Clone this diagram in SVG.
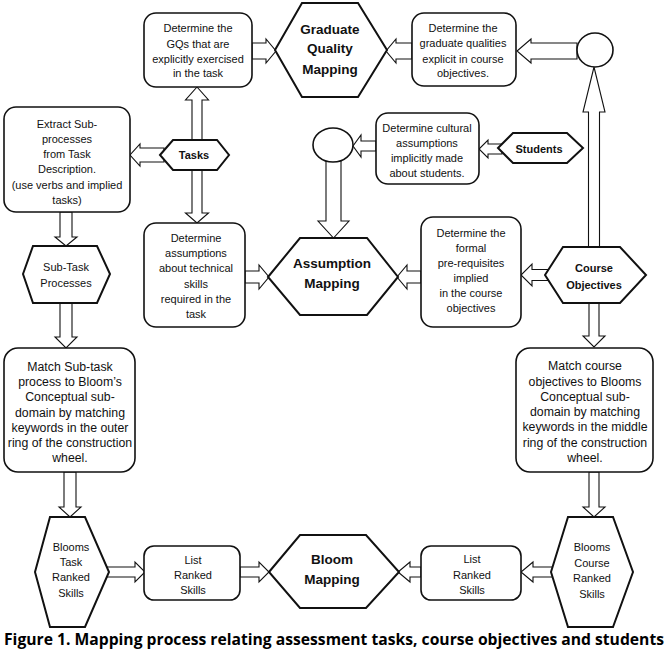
<svg xmlns="http://www.w3.org/2000/svg" width="669" height="653" viewBox="0 0 669 653">
<style>
.box{fill:#fff;stroke:#111;stroke-width:1.6}
.hex{fill:#fff;stroke:#111;stroke-width:2}
.arr{fill:#fff;stroke:#111;stroke-width:1.1;stroke-linejoin:miter}
text{font-family:"Liberation Sans",Arial,sans-serif;fill:#111;text-anchor:middle}
.t{font-size:11px}
.m{font-size:12.3px}
.b{font-size:13.5px;font-weight:bold}
.s{font-size:11px;font-weight:bold}
.cap{font-family:"Open Sans","Liberation Sans",sans-serif;font-size:15.5px;font-weight:bold;fill:#000}
</style>
<rect width="669" height="653" fill="#fff"/>
<g id="connectors">
<polygon class="arr" points="252,43 266,43 266,39 276,51 266,63 266,59 252,59"/>
<polygon class="arr" points="412,43 396,43 396,39 386,51 396,63 396,59 412,59"/>
<polygon class="arr" points="577,43 531,43 531,39 517,51 531,63 531,59 577,59"/>
<polygon class="arr" points="588.5,250 588.5,112 583,112 594,67 605,112 599.5,112 599.5,250"/>
<polygon class="arr" points="589,300 589,336 583,336 594,347 605,336 599,336 599,300"/>
<polygon class="arr" points="589,472 589,507 583,507 594,517 605,507 599,507 599,472"/>
<polygon class="arr" points="555,567 533,567 533,562 521,572 533,582 533,577 555,577"/>
<polygon class="arr" points="421,567 410,567 410,562 398,572 410,582 410,577 421,577"/>
<polygon class="arr" points="105,567 135,567 135,562 145,572 135,582 135,577 105,577"/>
<polygon class="arr" points="240,567 259,567 259,562 269,572 259,582 259,577 240,577"/>
<polygon class="arr" points="64,472 64,507 59,507 70,517 81,507 76,507 76,472"/>
<polygon class="arr" points="60,300 60,337 55,337 66,348 77,337 72,337 72,300"/>
<polygon class="arr" points="60,212 60,237 55,237 66,246 77,237 72,237 72,212"/>
<polygon class="arr" points="164,148 140,148 140,144 130,155 140,166 140,162 164,162"/>
<polygon class="arr" points="192,100 185.5,100 197,87 208.5,100 202,100 202,213 208.5,213 197,223 185.5,213 192,213"/>
<polygon class="arr" points="245,271 259,271 259,265 269,277 259,289 259,283 245,283"/>
<polygon class="arr" points="421,271 407,271 407,265 397,277 407,289 407,283 421,283"/>
<polygon class="arr" points="550,269.5 532,269.5 532,264 521,275 532,286 532,280.5 550,280.5"/>
<polygon class="arr" points="502,144 488,144 488,140 479,149 488,158 488,154 502,154"/>
<polygon class="arr" points="376,141 361,141 361,135 353,146 361,157 361,151 376,151"/>
<polygon class="arr" points="326,158 326,221 318,221 333.5,238 349,221 341,221 341,158"/>
</g>
<g id="gq-task">
<rect class="box" x="144" y="13" width="108" height="74" rx="12"/>
<text class="t"><tspan x="198" y="32">Determine the</tspan><tspan x="198" y="48">GQs that are</tspan><tspan x="198" y="63">explicitly exercised</tspan><tspan x="198" y="77">in the task</tspan></text>
</g>
<g id="gq-mapping">
<polygon class="hex" points="275,50 302,3 358,3 387,50 358,97 302,97"/>
<text class="b"><tspan x="330" y="34">Graduate</tspan><tspan x="330" y="53">Quality</tspan><tspan x="330" y="74">Mapping</tspan></text>
</g>
<g id="gq-course">
<rect class="box" x="412" y="13" width="104" height="73" rx="12"/>
<text class="t"><tspan x="463" y="32">Determine the</tspan><tspan x="463" y="47">graduate qualities</tspan><tspan x="463" y="63">explicit in course</tspan><tspan x="463" y="77">objectives.</tspan></text>
</g>
<g id="circle-top">
<ellipse class="box" cx="595" cy="50" rx="18" ry="17" stroke-width="1.8"/>
</g>
<g id="extract">
<rect class="box" x="4" y="107" width="126" height="105" rx="12"/>
<text class="t"><tspan x="67" y="128">Extract Sub-</tspan><tspan x="67" y="143">processes</tspan><tspan x="67" y="158">from Task</tspan><tspan x="67" y="173">Description.</tspan><tspan x="67" y="189">(use verbs and implied</tspan><tspan x="67" y="204">tasks)</tspan></text>
</g>
<g id="tasks">
<polygon class="hex" points="160,155 173,140 217,140 229,155 217,170 173,170"/>
<text class="s" x="194" y="159">Tasks</text>
</g>
<g id="circle-mid">
<ellipse class="box" cx="333" cy="145" rx="20" ry="17" stroke-width="1.8"/>
</g>
<g id="cultural">
<rect class="box" x="376" y="113" width="103" height="71" rx="12"/>
<text class="t"><tspan x="427" y="132">Determine cultural</tspan><tspan x="427" y="147">assumptions</tspan><tspan x="427" y="162">implicitly made</tspan><tspan x="427" y="177">about students.</tspan></text>
</g>
<g id="students">
<polygon class="hex" points="498,148 513,133 567,133 583,148 567,163 513,163"/>
<text class="s" x="539" y="153">Students</text>
</g>
<g id="subtask">
<polygon class="hex" points="23,274 33,246 97,246 110,274 97,303 33,303"/>
<text class="t"><tspan x="66" y="271">Sub-Task</tspan><tspan x="66" y="287">Processes</tspan></text>
</g>
<g id="tech-assumptions">
<rect class="box" x="144" y="223" width="101" height="104" rx="12"/>
<text class="t"><tspan x="196" y="242">Determine</tspan><tspan x="196" y="257">assumptions</tspan><tspan x="196" y="272">about technical</tspan><tspan x="196" y="288">skills</tspan><tspan x="196" y="303">required in the</tspan><tspan x="196" y="318">task</tspan></text>
</g>
<g id="assumption-mapping">
<polygon class="hex" points="268,277 300,238 367,238 398,277 367,315 300,315"/>
<text class="b" font-size="13px"><tspan x="332" y="268">Assumption</tspan><tspan x="332" y="288">Mapping</tspan></text>
</g>
<g id="prerequisites">
<rect class="box" x="421" y="217" width="100" height="110" rx="12"/>
<text class="t"><tspan x="471" y="237">Determine the</tspan><tspan x="471" y="252">formal</tspan><tspan x="471" y="267">pre-requisites</tspan><tspan x="471" y="282">implied</tspan><tspan x="471" y="297">in the course</tspan><tspan x="471" y="312">objectives</tspan></text>
</g>
<g id="course-objectives">
<polygon class="hex" points="545,275 563,247 620,247 646,275 620,303 563,303"/>
<text class="s"><tspan x="594" y="272">Course</tspan><tspan x="594" y="289">Objectives</tspan></text>
</g>
<g id="match-subtask">
<rect class="box" x="4" y="348" width="131" height="124" rx="14"/>
<text class="m"><tspan x="70" y="371">Match Sub-task</tspan><tspan x="70" y="386">process to Bloom’s</tspan><tspan x="70" y="401">Conceptual sub-</tspan><tspan x="70" y="417">domain by matching</tspan><tspan x="70" y="432">keywords in the outer</tspan><tspan x="70" y="447">ring of the construction</tspan><tspan x="70" y="462">wheel.</tspan></text>
</g>
<g id="match-course">
<rect class="box" x="516" y="348" width="137" height="124" rx="14"/>
<text class="m"><tspan x="585" y="370">Match course</tspan><tspan x="585" y="386">objectives to Blooms</tspan><tspan x="585" y="401">Conceptual sub-</tspan><tspan x="585" y="416">domain by matching</tspan><tspan x="585" y="431">keywords in the middle</tspan><tspan x="585" y="447">ring of the construction</tspan><tspan x="585" y="462">wheel.</tspan></text>
</g>
<g id="blooms-task">
<polygon class="hex" points="35,572 50,517 85,517 109,572 85,627 50,627"/>
<text class="t"><tspan x="71" y="551">Blooms</tspan><tspan x="71" y="566">Task</tspan><tspan x="71" y="581">Ranked</tspan><tspan x="71" y="597">Skills</tspan></text>
</g>
<g id="list-task">
<rect class="box" x="144" y="546" width="96" height="54" rx="10"/>
<text class="t"><tspan x="193" y="564">List</tspan><tspan x="193" y="579">Ranked</tspan><tspan x="193" y="594">Skills</tspan></text>
</g>
<g id="bloom-mapping">
<polygon class="hex" points="269,572 300,535 366,535 399,572 366,608 300,608"/>
<text class="b" font-size="13px"><tspan x="332" y="564">Bloom</tspan><tspan x="332" y="584">Mapping</tspan></text>
</g>
<g id="list-course">
<rect class="box" x="421" y="546" width="100" height="54" rx="10"/>
<text class="t"><tspan x="472" y="563">List</tspan><tspan x="472" y="579">Ranked</tspan><tspan x="472" y="594">Skills</tspan></text>
</g>
<g id="blooms-course">
<polygon class="hex" points="551,572 568,517 613,517 633,572 613,627 568,627"/>
<text class="t"><tspan x="592" y="551">Blooms</tspan><tspan x="592" y="567">Course</tspan><tspan x="592" y="582">Ranked</tspan><tspan x="592" y="598">Skills</tspan></text>
</g>
<text class="cap" x="334" y="645" textLength="660" lengthAdjust="spacingAndGlyphs">Figure 1. Mapping process relating assessment tasks, course objectives and students</text>
</svg>
